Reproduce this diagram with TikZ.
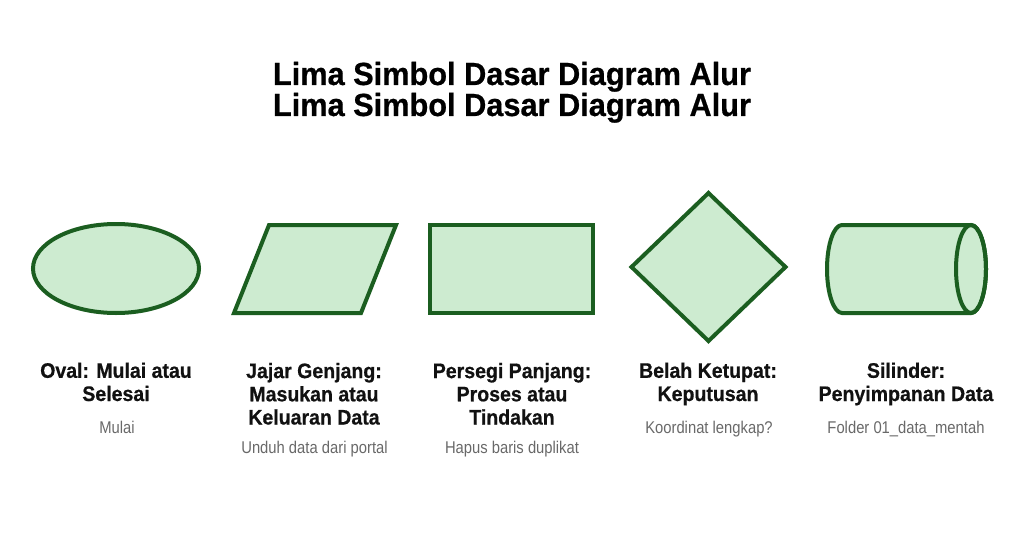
\documentclass[tikz,border=0pt]{standalone}
\usepackage{fontspec}
\usetikzlibrary{shapes.geometric}
\setmainfont{Liberation Sans}
\newfontfamily\titlefam[FakeStretch=0.96,FakeBold=0.6]{Liberation Sans}
\newfontfamily\lblfam[FakeStretch=0.93,FakeBold=0.6]{Liberation Sans}
\newfontfamily\subfam[FakeStretch=0.87]{Liberation Sans}
\definecolor{sgreen}{RGB}{27,94,32}
\definecolor{lgreen}{RGB}{205,235,208}
\definecolor{txtdark}{RGB}{17,17,17}
\definecolor{txtgray}{RGB}{105,105,105}
\tikzset{
  shp/.style={draw=sgreen, fill=lgreen, line width=4pt, line join=miter},
  ttl/.style={font=\titlefam\bfseries\fontsize{32}{31}\selectfont, text=black, anchor=base, inner sep=0pt},
  lbl/.style={font=\lblfam\bfseries\fontsize{21}{23.2}\selectfont, text=txtdark, align=center, anchor=base, inner sep=0pt},
  sub/.style={font=\subfam\fontsize{17}{20}\selectfont, text=txtgray, anchor=base, inner sep=0pt}
}
\begin{document}
\begin{tikzpicture}[x=1pt,y=-1pt]
\useasboundingbox[fill=white] (0,0) rectangle (1024,559);
% title
\node[ttl] (title1) at (512,85) {Lima Simbol Dasar Diagram Alur};
\node[ttl] (title2) at (512,116) {Lima Simbol Dasar Diagram Alur};
% shapes
\node[shp, ellipse, minimum width=166pt, minimum height=89pt, inner sep=0pt] (oval) at (116,268.5) {};
\draw[shp] (234,313) coordinate (pa) -- (269,225) coordinate (pb) -- (396,225) coordinate (pc) -- (361,313) coordinate (pd) -- cycle;
\node[shp, rectangle, minimum width=163pt, minimum height=88pt, inner sep=0pt] (rect) at (511.5,269) {};
\draw[shp] (708.5,193) coordinate (da) -- (785.5,267) coordinate (db) -- (708.5,341) coordinate (dc) -- (631.5,267) coordinate (dd) -- cycle;
\draw[shp] (842,225) coordinate (ca) -- (971,225) arc[start angle=-90, end angle=90, x radius=15, y radius=44] -- (842,313) arc[start angle=90, end angle=270, x radius=15, y radius=44] -- cycle;
\draw[shp, fill=none] (971,269) coordinate (cc) ellipse[x radius=15, y radius=44];
% labels (base anchor = baseline of last line)
\node[lbl] (l1) at (116,401) {Oval: Mulai atau\\Selesai};
\node[lbl] (l2) at (314,424.5) {Jajar Genjang:\\Masukan atau\\Keluaran Data};
\node[lbl] (l3) at (512,424.5) {Persegi Panjang:\\Proses atau\\Tindakan};
\node[lbl] (l4) at (708,401) {Belah Ketupat:\\Keputusan};
\node[lbl] (l5) at (906,401) {Silinder:\\Penyimpanan Data};
% examples
\node[sub] (s1) at (117,433) {Mulai};
\node[sub] (s2) at (314.5,453) {Unduh data dari portal};
\node[sub] (s3) at (512,453) {Hapus baris duplikat};
\node[sub] (s4) at (709,433) {Koordinat lengkap?};
\node[sub] (s5) at (906,433) {Folder 01\_data\_mentah};
\end{tikzpicture}
\end{document}
